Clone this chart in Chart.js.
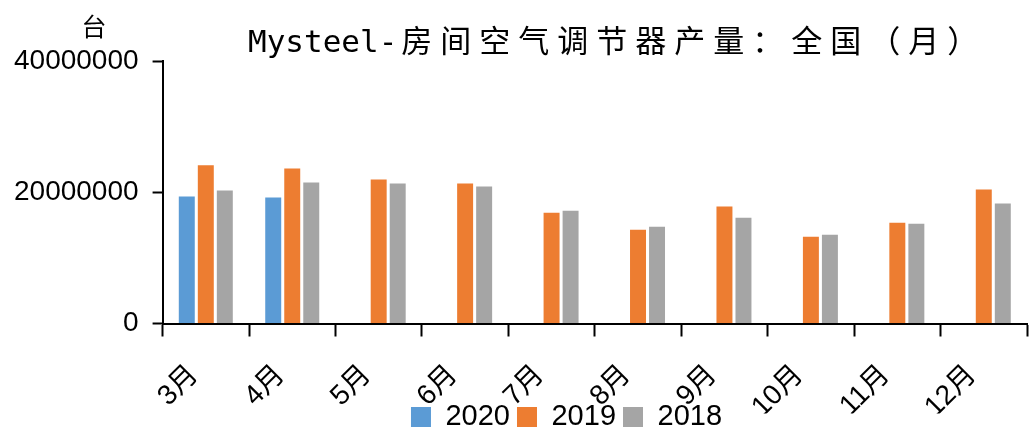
<!DOCTYPE html>
<html>
<head>
<meta charset="utf-8">
<script src="https://cdn.jsdelivr.net/npm/chart.js@4"></script>
<style>
  body { margin: 0; background: #fff; }
</style>
</head>
<body>
<canvas id="acChart" width="1030" height="429"></canvas>
<script>
// 월별 카테고리와 연도별 생산량 (단위: 台)
const months = ['3月', '4月', '5月', '6月', '7月', '8月', '9月', '10月', '11月', '12月'];
const output2020 = [19340000, 19190000, null, null, null, null, null, null, null, null];
const output2019 = [24130000, 23630000, 21940000, 21330000, 16890000, 14290000, 17810000, 13220000, 15360000, 20410000];
const output2018 = [20260000, 21490000, 21330000, 20870000, 17200000, 14750000, 16130000, 13520000, 15210000, 18270000];
const yTicks = [0, 20000000, 40000000];

const titleLatin = 'Mysteel-';
const titleCjk = '房间空气调节器产量：全国（月）';
const unitText = '台';

// 제목은 글자 간격 때문에 직접 그림
const titlePlugin = {
  id: 'titleText',
  afterInit(chart) {
    // 범례 높이를 줄여서 x축 라벨 아래에 붙게 함
    const legend = chart.legend;
    const fit = legend.fit;
    legend.fit = function () {
      fit.call(this);
      this.height = 15.5;
    };
  },
  afterLayout(chart) {
    const lg = chart.legend;
    lg.left += 53;
    lg.right += 53;
    lg.top = 395.5;
    lg.bottom = 429;
  },
  afterDraw(chart) {
    const c = chart.ctx;
    c.save();
    c.fillStyle = '#000';
    c.textBaseline = 'alphabetic';
    c.textAlign = 'left';
    c.font = '31px "DejaVu Sans Mono"';
    c.fillText(titleLatin, 248, 52);
    const w1 = c.measureText(titleLatin).width;
    c.font = '31px "Noto Sans CJK SC"';
    c.letterSpacing = '8px';
    c.fillText(titleCjk, 248 + w1 + 4, 52);
    c.letterSpacing = '0px';
    c.textAlign = 'center';
    c.font = '25px "Noto Sans CJK SC"';
    c.fillText(unitText, 94, 36);
    c.restore();
  }
};

const ctx = document.getElementById('acChart');

new Chart(ctx, {
  type: 'bar',
  data: {
    labels: months,
    datasets: [
      { label: '2020', data: output2020, backgroundColor: '#5B9BD5' },
      { label: '2019', data: output2019, backgroundColor: '#ED7D31' },
      { label: '2018', data: output2018, backgroundColor: '#A5A5A5' }
    ]
  },
  options: {
    responsive: false,
    animation: false,
    categoryPercentage: 0.66,
    barPercentage: 0.84,
    layout: {
      padding: { top: 61, left: 0, right: 3, bottom: 0 }
    },
    plugins: {
      title: { display: false },
      tooltip: { enabled: false },
      legend: {
        position: 'bottom',
        labels: {
          boxWidth: 20,
          boxHeight: 20,
          padding: 7,
          color: '#000',
          font: { family: 'Liberation Sans', size: 29 }
        }
      }
    },
    scales: {
      x: {
        afterFit(axis) {
          axis.height = 90;
        },
        grid: {
          drawOnChartArea: false,
          tickLength: 13,
          tickColor: '#000',
          tickWidth: 2
        },
        border: { color: '#000', width: 2 },
        ticks: {
          color: '#000',
          maxRotation: 45,
          minRotation: 45,
          padding: 22,
          labelOffset: -12,
          font: { family: '"Liberation Sans", "Noto Sans CJK SC"', size: 28 }
        }
      },
      y: {
        min: 0,
        max: 40000000,
        afterBuildTicks(axis) {
          axis.ticks = yTicks.map(v => ({ value: v }));
        },
        grid: {
          drawOnChartArea: false,
          tickLength: 10,
          tickColor: '#000',
          tickWidth: 2
        },
        border: { color: '#000', width: 2 },
        ticks: {
          color: '#000',
          padding: 14,
          callback: v => String(v),
          font: { family: 'Liberation Sans', size: 28 }
        }
      }
    }
  },
  plugins: [titlePlugin]
});
</script>
</body>
</html>
